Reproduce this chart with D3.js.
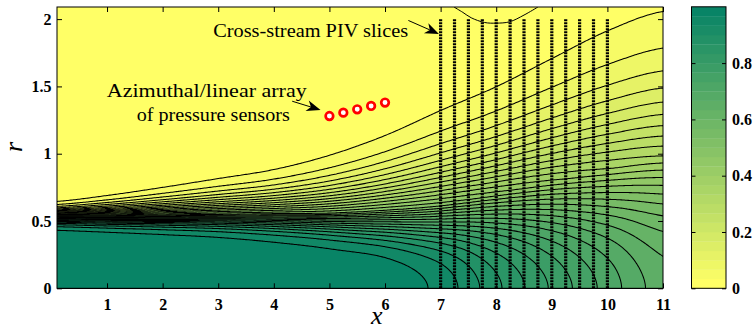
<!DOCTYPE html>
<html>
<head>
<meta charset="utf-8">
<script src="https://cdn.jsdelivr.net/npm/d3@7"></script>
<style>
  body { margin: 0; background: #fff; }
  .tick line { stroke: #000; }
</style>
</head>
<body>
<div id="chart"></div>
<script>
// jet parameters at each axial station x = 0..11
var stationX    = [0, 1, 2, 3, 4, 5, 6, 7, 8, 9, 10, 11];
var centerVel   = [0.99, 0.99, 0.99, 0.99, 0.99, 0.99, 0.99, 0.955, 0.875, 0.795, 0.72, 0.65];
var halfRadius  = [0.54, 0.54, 0.545, 0.55, 0.555, 0.56, 0.58, 0.62, 0.70, 0.79, 0.88, 0.98];
var innerSpread = [0.058, 0.066, 0.078, 0.092, 0.114, 0.144, 0.2, 0.27, 0.34, 0.41, 0.47, 0.52];
var outerSpread = [0.061, 0.089, 0.122, 0.158, 0.195, 0.255, 0.33, 0.42, 0.49, 0.58, 0.675, 0.73];

// small closed contour touching the top edge
var pocketX = [7.24, 7.4, 7.55, 7.79, 8.0, 8.24, 8.5, 8.75];
var pocketR = [2.09, 2.05, 2.01, 1.975, 1.97, 1.98, 2.03, 2.09];

// measurement locations
var pivX = [7, 7.25, 7.5, 7.75, 8, 8.25, 8.5, 8.75, 9, 9.25, 9.5, 9.75, 10];
var pivTop = 2.0;
var sensorX = [5, 5.25, 5.5, 5.75, 6];
var sensorR = [1.28, 1.305, 1.33, 1.355, 1.38];

var xTicks = [1, 2, 3, 4, 5, 6, 7, 8, 9, 10, 11];
var rTicks = [0, 0.5, 1, 1.5, 2];
var cbTicks = [0, 0.2, 0.4, 0.6, 0.8];
var nLevels = 30;

var SERIF = '"Liberation Serif", "Times New Roman", Times, serif';

function init() {
    var w = 754, h = 333;
    var left = 57, right = 663, top = 7, bottom = 288.3;

    var svg = d3.select("#chart").append("svg").attr("width", w).attr("height", h);

    var xScale = d3.scaleLinear().domain([0.1, 11]).range([left, right]);
    var yScale = d3.scaleLinear().domain([0, 2.09]).range([bottom, top]);

    // reversed "summer" colormap: 0 -> yellow, 1 -> green
    function colour(v) {
        return d3.rgb(255 * (1 - v), 255 * (1 - v / 2), 102).toString();
    }

    // catmull-rom through the station values
    function atStation(vals, x) {
        var n = vals.length;
        var i = Math.max(0, Math.min(n - 2, Math.floor(x)));
        var f = x - i;
        var p0 = vals[Math.max(i - 1, 0)], p1 = vals[i], p2 = vals[i + 1], p3 = vals[Math.min(i + 2, n - 1)];
        return 0.5 * (2 * p1 + (p2 - p0) * f + (2 * p0 - 5 * p1 + 4 * p2 - p3) * f * f + (3 * p1 - p0 - 3 * p2 + p3) * f * f * f);
    }

    var F = function (e) { return 0.5 * (1 - Math.tanh(e)); };
    var a = 0.08;

    // grid
    var x0 = 0.1, dx = 0.025, dr = 0.01;
    var nx = Math.round((11 - x0) / dx) + 1;
    var nr = Math.round(2.1 / dr) + 1;
    var values = new Float64Array(nx * nr);
    for (var i = 0; i < nx; i++) {
        var x = x0 + i * dx;
        var uc = atStation(centerVel, x), rh = atStation(halfRadius, x);
        var wi = atStation(innerSpread, x), wo = atStation(outerSpread, x);
        var f0 = F((a - rh) / wi);
        for (var j = 0; j < nr; j++) {
            var r = j * dr;
            var rs = r + a * Math.exp(-r / a);
            var e = rs < rh ? (rs - rh) / wi : (rs - rh) / wo;
            values[j * nx + i] = uc * F(e) / f0;
        }
    }

    var levels = d3.range(1, nLevels).map(function (k) { return k / nLevels; });
    var contours = d3.contours().size([nx, nr]).thresholds(levels)(values);

    var path = d3.geoPath(d3.geoTransform({
        point: function (px, py) {
            this.stream.point(xScale(x0 + (px - 0.5) * dx), yScale((py - 0.5) * dr));
        }
    }));

    svg.append("clipPath").attr("id", "plotClip")
        .append("rect").attr("x", left).attr("y", top)
        .attr("width", right - left).attr("height", bottom - top);

    var plot = svg.append("g").attr("clip-path", "url(#plotClip)");

    plot.append("rect").attr("x", left).attr("y", top)
        .attr("width", right - left).attr("height", bottom - top)
        .attr("fill", colour(0));

    plot.append("g").selectAll("path").data(contours).enter().append("path")
        .attr("d", path)
        .attr("fill", function (d) { return colour(d.value); })
        .attr("stroke", "none");

    plot.append("g").selectAll("path").data(contours).enter().append("path")
        .attr("d", path)
        .attr("fill", "none")
        .attr("stroke", "#000")
        .attr("stroke-width", 1.05);

    var pocket = d3.line()
        .x(function (d, i) { return xScale(pocketX[i]); })
        .y(function (d, i) { return yScale(pocketR[i]); })
        .curve(d3.curveCatmullRom.alpha(0.5));
    plot.append("path").attr("d", pocket(pocketX))
        .attr("fill", "none").attr("stroke", "#000").attr("stroke-width", 1);

    // PIV slices
    plot.append("g").selectAll("line").data(pivX).enter().append("line")
        .attr("x1", function (d) { return xScale(d); })
        .attr("x2", function (d) { return xScale(d); })
        .attr("y1", yScale(0))
        .attr("y2", yScale(pivTop))
        .attr("stroke", "#000")
        .attr("stroke-width", 3.2)
        .attr("stroke-dasharray", "2,1");

    // sensors
    plot.append("g").selectAll("circle").data(sensorX).enter().append("circle")
        .attr("cx", function (d) { return xScale(d); })
        .attr("cy", function (d, i) { return yScale(sensorR[i]); })
        .attr("r", 3.8)
        .attr("fill", "#fff")
        .attr("stroke", "#f00")
        .attr("stroke-width", 2.7);

    function serifTicks(g) {
        g.select(".domain").remove();
        g.selectAll("text").style("font-family", SERIF).style("font-weight", "bold")
            .style("font-size", "16px").attr("fill", "#000");
    }

    // axes, ticks inside on all four sides
    svg.append("g").attr("transform", "translate(0," + bottom + ")")
        .call(d3.axisBottom(xScale).tickValues(xTicks).tickSizeInner(-5).tickSizeOuter(0).tickPadding(10.5))
        .call(serifTicks);
    svg.append("g").attr("transform", "translate(0," + top + ")")
        .call(d3.axisTop(xScale).tickValues(xTicks).tickSizeInner(-5).tickSizeOuter(0).tickFormat(""))
        .call(serifTicks);
    svg.append("g").attr("transform", "translate(" + left + ",0)")
        .call(d3.axisLeft(yScale).tickValues(rTicks).tickSizeInner(-5).tickSizeOuter(0).tickPadding(5.5)
            .tickFormat(function (d) { return String(d); }))
        .call(serifTicks);
    svg.append("g").attr("transform", "translate(" + right + ",0)")
        .call(d3.axisRight(yScale).tickValues(rTicks).tickSizeInner(-5).tickSizeOuter(0).tickFormat(""))
        .call(serifTicks);

    svg.append("rect").attr("x", left).attr("y", top)
        .attr("width", right - left).attr("height", bottom - top)
        .attr("fill", "none").attr("stroke", "#000").attr("stroke-width", 1);

    function label(sel, size, italic) {
        return sel.style("font-family", SERIF).style("font-size", size + "px")
            .style("font-style", italic ? "italic" : "normal").attr("fill", "#000");
    }

    label(svg.append("text").attr("x", xScale(5.85)).attr("y", 324)
        .attr("text-anchor", "middle"), 26, true).text("x");
    label(svg.append("text").attr("transform", "translate(22," + yScale(1.05) + ") rotate(-90)")
        .attr("text-anchor", "middle"), 26, true).text("r");

    // annotations
    function arrow(tx, tr, hx, hr) {
        var x1 = xScale(tx), y1 = yScale(tr), x2 = xScale(hx), y2 = yScale(hr);
        var len = Math.hypot(x2 - x1, y2 - y1), ux = (x2 - x1) / len, uy = (y2 - y1) / len;
        var L = 14, W = 5.5, notch = 4;
        var bx = x2 - L * ux, by = y2 - L * uy;
        var nxp = bx + notch * ux, nyp = by + notch * uy;
        svg.append("line").attr("x1", x1).attr("y1", y1).attr("x2", nxp).attr("y2", nyp)
            .attr("stroke", "#000").attr("stroke-width", 1);
        svg.append("path")
            .attr("d", "M" + x2 + "," + y2 +
                "L" + (bx - W * uy) + "," + (by + W * ux) +
                "L" + nxp + "," + nyp +
                "L" + (bx + W * uy) + "," + (by - W * ux) + "Z")
            .attr("fill", "#000");
    }

    function note(x, r, len, txt) {
        label(svg.append("text").attr("x", xScale(x)).attr("y", yScale(r))
            .attr("textLength", len).attr("lengthAdjust", "spacingAndGlyphs"), 19.5, false).text(txt);
    }

    note(2.91, 1.865, 195, "Cross-stream PIV slices");
    arrow(6.42, 1.99, 6.97, 1.89);

    note(0.995, 1.42, 200, "Azimuthal/linear array");
    note(1.535, 1.245, 153, "of pressure sensors");
    arrow(4.33, 1.39, 4.84, 1.325);

    // colorbar
    var cbLeft = 691.5, cbRight = 726;
    var cbScale = d3.scaleLinear().domain([0, 1]).range([288.3, 6.8]);
    var bands = d3.range(0, nLevels).map(function (k) { return k / nLevels; });
    svg.append("g").selectAll("rect").data(bands).enter().append("rect")
        .attr("x", cbLeft)
        .attr("width", cbRight - cbLeft)
        .attr("y", function (d) { return cbScale(d + 1 / nLevels); })
        .attr("height", function (d) { return cbScale(d) - cbScale(d + 1 / nLevels) + 0.3; })
        .attr("fill", function (d) { return colour(d); });
    svg.append("g").attr("transform", "translate(" + cbRight + ",0)")
        .call(d3.axisRight(cbScale).tickValues(cbTicks).tickSizeInner(-4).tickSizeOuter(0).tickPadding(6)
            .tickFormat(function (d) { return String(d); }))
        .call(serifTicks);
    svg.append("g").attr("transform", "translate(" + cbLeft + ",0)")
        .call(d3.axisLeft(cbScale).tickValues(cbTicks).tickSizeInner(-4).tickSizeOuter(0).tickFormat(""))
        .call(serifTicks);
    svg.append("rect").attr("x", cbLeft).attr("y", cbScale(1))
        .attr("width", cbRight - cbLeft).attr("height", cbScale(0) - cbScale(1))
        .attr("fill", "none").attr("stroke", "#000").attr("stroke-width", 1);
}
window.onload = init;
</script>
</body>
</html>
